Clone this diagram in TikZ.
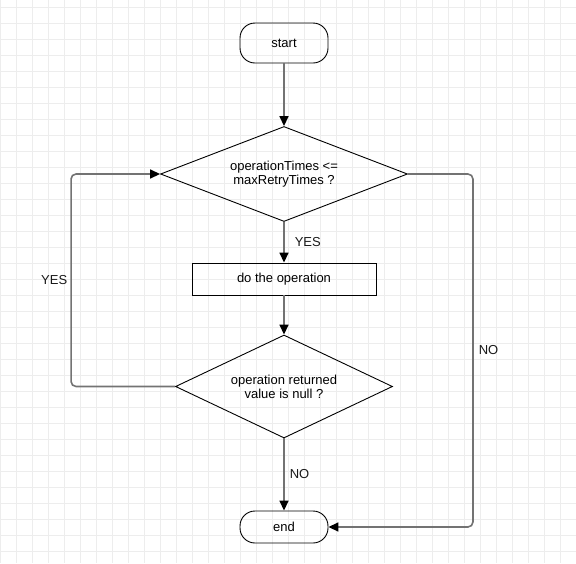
\documentclass[tikz,border=0pt]{standalone}
\usepackage{fontspec}
\setmainfont{Liberation Sans}
\usetikzlibrary{shapes.geometric,arrows.meta}

\begin{document}
\begin{tikzpicture}[auto,
  font=\fontsize{13}{14}\selectfont,
  gridline/.style={draw=black!7, line width=0.8pt},
  term/.style={draw, rounded corners=15pt, minimum width=88pt, line width=0.9pt},
  decision/.style={draw, diamond, aspect=2.6, inner sep=0pt, align=center, line width=0.9pt},
  process/.style={draw, rectangle, minimum width=184pt, minimum height=32pt, line width=0.9pt},
  flow/.style={draw=black!55, line width=1.6pt, -{Triangle[length=10pt,width=9pt,fill=black,color=black]}},
  lbl/.style={text=black!90, inner sep=1pt}]
\useasboundingbox (0,0) rectangle (576pt,-563pt);
% background grid
\fill[white] (0,0) rectangle (576pt,-563pt);
\foreach \gx in {0,...,35} \draw[gridline] (\gx*16pt+0.5pt,0) -- (\gx*16pt+0.5pt,-563pt);
\foreach \gy in {0,...,34} \draw[gridline] (0,-\gy*16pt-7pt) -- (576pt,-\gy*16pt-7pt);
% nodes
\node  (start)[term, minimum height=40pt] at (284pt,-43pt) {start};
\node  (cond)[decision, minimum width=247pt, minimum height=95pt] [node distance=131pt, below of = start] {operationTimes <=\\maxRetryTimes ?};
\node  (oper)[process] [node distance=105pt, below of = cond] {do the operation};
\node  (check)[decision, minimum width=217pt, minimum height=103pt] [node distance=107.5pt, below of = oper] {operation returned\\value is null ?};
\node  (end)[term, minimum height=32pt] [node distance=140.5pt, below of = check] {end};
% connectors
\draw[flow] (start) -- (cond);
\draw[flow] (cond) -- node[lbl, right=9pt] {YES} (oper);
\draw[flow] (oper) -- (check);
\draw[flow] (check) -- node[lbl, right=4pt] {NO} (end);
\draw[flow, rounded corners=5pt] (cond.east) -- ++(65pt,0) |- node[lbl, pos=0.25, right=4pt] {NO} (end.east);
\draw[flow, rounded corners=5pt] (check.west) -- ++(-104pt,0) |- node[lbl, pos=0.25, left=2pt] {YES} (cond.west);
\end{tikzpicture}
\end{document}
